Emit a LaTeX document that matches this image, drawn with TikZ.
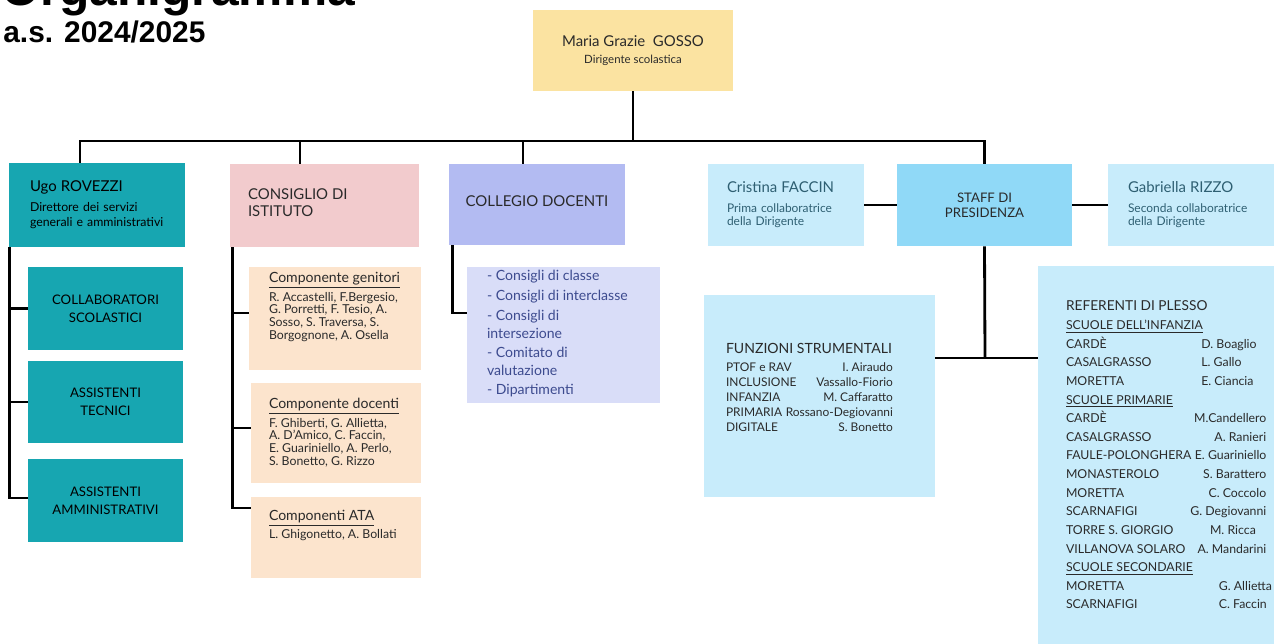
\documentclass[tikz,border=0pt]{standalone}
\usepackage{fontspec}
\setmainfont{Lato}
\newfontfamily\titolofont{Liberation Sans}
\usetikzlibrary{positioning}

\definecolor{giallo}{HTML}{FBE3A1}
\definecolor{verdeacqua}{HTML}{17A6B1}
\definecolor{rosa}{HTML}{F2CBCD}
\definecolor{pesca}{HTML}{FCE4CD}
\definecolor{lilla}{HTML}{B3BBF2}
\definecolor{lillachiaro}{HTML}{D9DDF8}
\definecolor{celeste}{HTML}{C8ECFB}
\definecolor{azzurro}{HTML}{90D9F7}
\definecolor{testo}{HTML}{2A2A2A}
\definecolor{testoblu}{HTML}{3D4B8F}
\definecolor{testoteal}{HTML}{2E5F72}

\newcommand\riga[3]{\hbox to #1{#2\hfill #3}}
\newcommand\col[3]{\makebox[#1][l]{#2}#3}

\tikzset{
  box/.style={rectangle, inner sep=0pt, text=testo},
  conn/.style={line width=1.6pt, black},
  txt/.style={inner sep=0pt, align=left, text=testo},
}

\begin{document}
\begin{tikzpicture}[x=0.02cm, y=-0.02cm]
  \path[use as bounding box] (0,0) rectangle (1274,643);
  \clip (0,0) rectangle (1274,643);

  % titolo
  \node[anchor=base west, inner sep=0pt, font=\titolofont\bfseries\fontsize{28.3}{30}\selectfont] (titolo) at (1,5) {Organigramma};
  \node[anchor=base west, inner sep=0pt, font=\titolofont\bfseries\fontsize{17}{20}\selectfont] (anno) at (3,42) {a.s. 2024/2025};

  % dirigente
  \node[box, fill=giallo, minimum width=4cm, minimum height=1.62cm, align=center, font=\fontsize{6.5}{9.6}\selectfont] (gosso) at (633,50.5)
    {{\fontsize{8.5}{9.6}\selectfont Maria Grazie\ \ GOSSO}\\Dirigente scolastica};

  % segreteria
  \node[box, fill=verdeacqua, minimum width=3.52cm, minimum height=1.68cm, text width=2.68cm, align=left, text=black, font=\fontsize{7}{8.5}\selectfont] (ugo) at (97,205)
    {{\fontsize{8.5}{8.5}\selectfont Ugo ROVEZZI}\\[2.8pt]Direttore dei servizi\\generali e amministrativi};
  \node[box, fill=verdeacqua, minimum width=3.1cm, minimum height=1.66cm, align=center, text=black, font=\fontsize{7.5}{10}\selectfont] (collab) at (105.5,308.5) {COLLABORATORI\\SCOLASTICI};
  \node[box, fill=verdeacqua, minimum width=3.1cm, minimum height=1.64cm, align=center, text=black, font=\fontsize{7.5}{10}\selectfont] (tecnici) at (105.5,402) {ASSISTENTI\\TECNICI};
  \node[box, fill=verdeacqua, minimum width=3.1cm, minimum height=1.66cm, align=center, text=black, font=\fontsize{7.5}{10}\selectfont] (ammin) at (105.5,500.5) {ASSISTENTI\\AMMINISTRATIVI};

  % consiglio di istituto
  \node[box, fill=rosa, minimum width=3.78cm, minimum height=1.66cm] (consiglio) at (324.5,205.5) {};
  \node[txt, font=\fontsize{8.5}{9.6}\selectfont, below right=0.5cm and 0.36cm of consiglio.north west] (consiglioT) {CONSIGLIO DI\\ISTITUTO};
  \node[box, fill=pesca, minimum width=3.44cm, minimum height=2.06cm] (genitori) at (335,318.5) {};
  \node[txt, font=\fontsize{7}{7.2}\selectfont, below right=0.1cm and 0.4cm of genitori.north west] (genitoriT)
    {{\fontsize{8}{7.2}\selectfont\underline{Componente genitori}}\\[1.2pt]R. Accastelli, F.Bergesio,\\G. Porretti, F. Tesio, A.\\Sosso, S. Traversa, S.\\Borgognone, A. Osella};
  \node[box, fill=pesca, minimum width=3.4cm, minimum height=2cm] (docenti) at (336,433) {};
  \node[txt, font=\fontsize{7}{7.2}\selectfont, below right=0.3cm and 0.36cm of docenti.north west] (docentiT)
    {{\fontsize{8}{7.2}\selectfont\underline{Componente docenti}}\\[1.2pt]F. Ghiberti, G. Allietta,\\A. D’Amico, C. Faccin,\\E. Guariniello, A. Perlo,\\S. Bonetto, G. Rizzo};
  \node[box, fill=pesca, minimum width=3.4cm, minimum height=1.62cm] (ata) at (336,537.5) {};
  \node[txt, font=\fontsize{7}{7.2}\selectfont, below right=0.26cm and 0.36cm of ata.north west] (ataT)
    {{\fontsize{8}{7.2}\selectfont\underline{Componenti ATA}}\\[0.6pt]L. Ghigonetto, A. Bollati};

  % collegio docenti
  \node[box, fill=lilla, minimum width=3.52cm, minimum height=1.62cm, text depth=4pt, font=\fontsize{8.5}{9}\selectfont] (collegio) at (537,204.5) {COLLEGIO DOCENTI};
  \node[box, fill=lillachiaro, minimum width=3.86cm, minimum height=2.72cm] (organi) at (563.5,335) {};
  \node[txt, text=testoblu, font=\fontsize{8}{10.6}\selectfont, below right=0.06cm and 0.4cm of organi.north west] (organiT)
    {- Consigli di classe\\[0.8pt]- Consigli di interclasse\\[0.6pt]- Consigli di\\intersezione\\- Comitato di\\valutazione\\- Dipartimenti};

  % staff
  \node[box, fill=azzurro, minimum width=3.5cm, minimum height=1.64cm, align=center, font=\fontsize{7.5}{8.5}\selectfont] (staff) at (984.5,205) {STAFF DI\\PRESIDENZA};
  \node[box, fill=celeste, minimum width=3.12cm, minimum height=1.64cm, text width=2.36cm, align=left, text=testoteal, font=\fontsize{6.8}{7.6}\selectfont] (faccin) at (786,205)
    {{\fontsize{8.5}{7.6}\selectfont Cristina FACCIN}\\[3.5pt]Prima collaboratrice\\della Dirigente};
  \node[box, fill=celeste, minimum width=3.44cm, minimum height=1.64cm, text width=2.64cm, align=left, text=testoteal, font=\fontsize{6.8}{7.6}\selectfont] (rizzo) at (1194,205)
    {{\fontsize{8.5}{7.6}\selectfont Gabriella RIZZO}\\[3.5pt]Seconda collaboratrice\\della Dirigente};

  % funzioni strumentali
  \node[box, fill=celeste, minimum width=4.62cm, minimum height=4.04cm] (funzioni) at (819.5,396) {};
  \node[txt, font=\fontsize{6.8}{8.5}\selectfont, below right=0.96cm and 0.44cm of funzioni.north west] (funzioniT)
    {{\fontsize{8}{8.5}\selectfont FUNZIONI STRUMENTALI}\\[2pt]
     \riga{95pt}{PTOF e RAV}{I. Airaudo}\\
     \riga{95pt}{INCLUSIONE}{Vassallo-Fiorio}\\
     \riga{95pt}{INFANZIA}{M. Caffaratto}\\
     \riga{95pt}{PRIMARIA\ }{Rossano-Degiovanni}\\
     \riga{95pt}{DIGITALE}{S. Bonetto}};

  % referenti di plesso
  \node[box, fill=celeste, minimum width=4.84cm, minimum height=7.68cm] (referenti) at (1159,458) {};
  \node[txt, font=\fontsize{7}{10.6}\selectfont, below right=0.7cm and 0.56cm of referenti.north west] (referentiT)
    {{\fontsize{7.8}{10.6}\selectfont REFERENTI DI PLESSO}\\
     \underline{SCUOLE DELL’INFANZIA}\\
     \col{77pt}{CARDÈ}{D. Boaglio}\\
     \col{77pt}{CASALGRASSO}{L. Gallo}\\
     \col{77pt}{MORETTA}{E. Ciancia}\\
     \underline{SCUOLE PRIMARIE}\\
     \riga{114pt}{CARDÈ}{M.Candellero}\\
     \riga{114pt}{CASALGRASSO}{A. Ranieri}\\
     \riga{114pt}{FAULE-POLONGHERA}{E. Guariniello}\\
     \riga{114pt}{MONASTEROLO}{S. Barattero}\\
     \riga{114pt}{MORETTA}{C. Coccolo}\\
     \riga{114pt}{SCARNAFIGI}{G. Degiovanni}\\
     \riga{108pt}{TORRE S. GIORGIO}{M. Ricca}\\
     \riga{114pt}{VILLANOVA SOLARO}{A. Mandarini}\\
     \underline{SCUOLE SECONDARIE}\\
     \col{87pt}{MORETTA}{G. Allietta}\\
     \col{87pt}{SCARNAFIGI}{C. Faccin}};

  % collegamenti
  \coordinate (bus) at (630,141);
  \draw[conn] (gosso.south) -- (gosso.south |- bus);
  \draw[conn] ([xshift=-0.34cm]ugo.north) |- (staff.north |- bus) -- (staff.north);
  \draw[conn] ([xshift=-0.49cm]consiglio.north) -- ++(0,-24);
  \draw[conn] ([xshift=-0.28cm]collegio.north) -- ++(0,-24);

  \coordinate (spinaA) at ([xshift=0.02cm]ugo.south west);
  \draw[conn] (spinaA) |- ([yshift=0.05cm]ammin.west);
  \draw[conn] (collab.west) -- (collab.west -| spinaA);
  \draw[conn] (tecnici.west) -- (tecnici.west -| spinaA);

  \coordinate (spinaB) at ([xshift=0.06cm]consiglio.south west);
  \draw[conn] (spinaB) |- ([yshift=0.59cm]ata.west);
  \draw[conn] ([yshift=0.11cm]genitori.west) -- ++(-16,0);
  \draw[conn] ([yshift=0.1cm]docenti.west) -- ++(-18,0);

  \draw[conn] ([xshift=0.08cm]collegio.south west) |- ([yshift=0.44cm]organi.west);

  \draw[conn] (faccin.east) -- (staff.west);
  \draw[conn] (staff.east) -- (rizzo.west);
  \coordinate (hub) at (985,358);
  \draw[conn] (staff.south) -- (hub);
  \draw[conn] (funzioni.east |- hub) -- (referenti.west |- hub);
\end{tikzpicture}
\end{document}
